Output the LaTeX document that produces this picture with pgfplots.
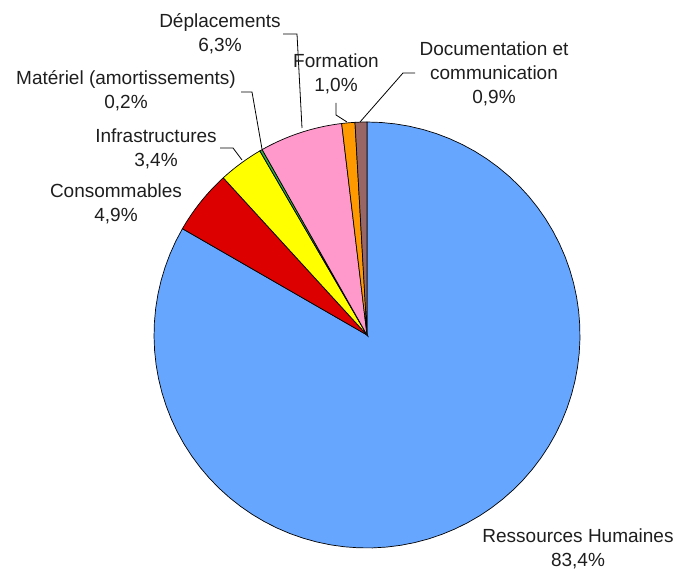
\documentclass[border=0pt]{standalone}
\usepackage{pgfplots}
\pgfplotsset{compat=1.18}
\usepackage{fontspec}
\setmainfont{Liberation Sans}
\definecolor{cblue}{HTML}{66A6FF}
\definecolor{cred}{HTML}{DD0000}
\definecolor{cyellow}{HTML}{FFFF00}
\definecolor{cgreen}{HTML}{33B040}
\definecolor{cpink}{HTML}{FF99CC}
\definecolor{corange}{HTML}{FF9900}
\definecolor{cbrown}{HTML}{996666}
\definecolor{ctext}{HTML}{1E1E1E}
\def\cx{367}\def\cy{233}\def\rr{213}
% slice: #1 start angle macro name, #2 percent, #3 colour
\newcommand\slice[2]{%
  \pgfmathsetmacro\sa{\curangle}%
  \pgfmathsetmacro\sb{\curangle-360/100.1*#1}%
  \addplot[fill=#2, draw=black, line width=0.7pt, domain=\sb:\sa, samples=80, variable=\t]
    ({\cx+\rr*cos(\t)},{\cy+\rr*sin(\t)}) -- (axis cs:\cx,\cy) -- cycle;
  \xdef\curangle{\sb}%
}
\begin{document}
\begin{tikzpicture}
\begin{axis}[
  scale only axis, width=677pt, height=568pt,
  xmin=0, xmax=677, ymin=0, ymax=568,
  hide axis, clip=false,
]
\path (axis cs:0,0) rectangle (axis cs:677,568);
\gdef\curangle{90}
\slice{83.4}{cblue}
\slice{4.9}{cred}
\slice{3.4}{cyellow}
\slice{0.2}{cgreen}
\slice{6.3}{cpink}
\slice{1.0}{corange}
\slice{0.9}{cbrown}
% leader lines
\draw[black, line width=0.8pt] (axis cs:283,534) -- (axis cs:297,534) -- (axis cs:302,440);
\draw[black, line width=0.8pt] (axis cs:336,465) -- (axis cs:336,453) -- (axis cs:347,446);
\draw[black, line width=0.8pt] (axis cs:415,495) -- (axis cs:403,495) -- (axis cs:360,446);
\draw[black, line width=0.8pt] (axis cs:241,476) -- (axis cs:252,476) -- (axis cs:262,419);
\draw[black, line width=0.8pt] (axis cs:220,420) -- (axis cs:233,420) -- (axis cs:242,408);
% labels
\tikzset{lab/.style={align=center, text=ctext, font=\fontsize{19}{24}\selectfont, inner sep=0pt}}
\node[lab] at (axis cs:220,534) {Déplacements\\6,3\%};
\node[lab] at (axis cs:336,494) {Formation\\1,0\%};
\node[lab] at (axis cs:494,494) {Documentation et\\communication\\0,9\%};
\node[lab] at (axis cs:126,477) {Matériel (amortissements)\\0,2\%};
\node[lab] at (axis cs:156,419) {Infrastructures\\3,4\%};
\node[lab] at (axis cs:116,364) {Consommables\\4,9\%};
\node[lab] at (axis cs:578,19) {Ressources Humaines\\83,4\%};
\end{axis}
\end{tikzpicture}
\end{document}
